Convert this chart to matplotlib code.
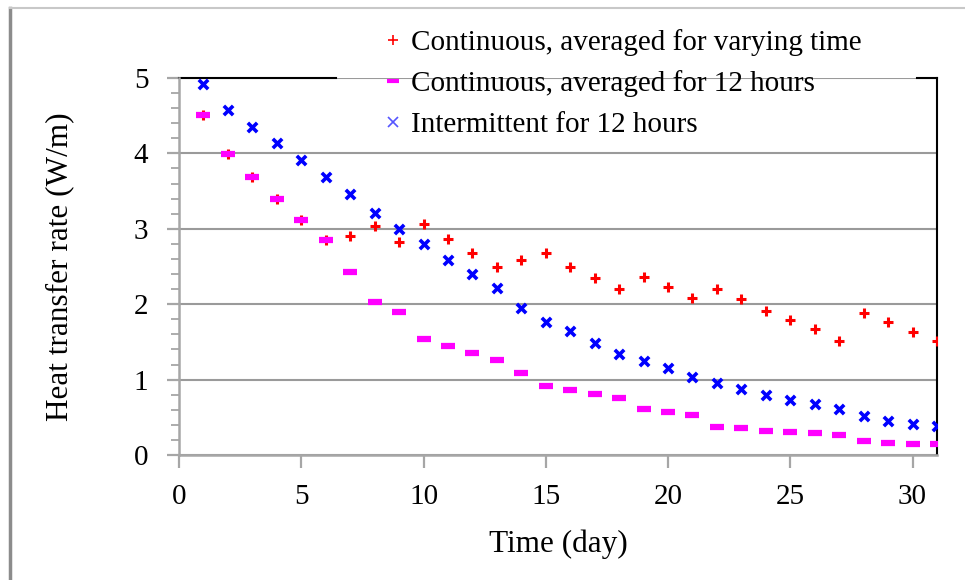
import numpy as np
import matplotlib
matplotlib.use('Agg')
import matplotlib.pyplot as plt
from matplotlib.ticker import MultipleLocator
from matplotlib.lines import Line2D

#%% Data
days = np.arange(1, 32)

varying_time = [4.51, 3.99, 3.69, 3.40, 3.12, 2.85, 2.90, 3.04, 2.83, 3.06,
                2.86, 2.68, 2.50, 2.59, 2.68, 2.50, 2.35, 2.20, 2.36, 2.23,
                2.08, 2.20, 2.07, 1.91, 1.79, 1.67, 1.51, 1.88, 1.76, 1.63, 1.51]

averaged_12h = [4.51, 3.99, 3.69, 3.40, 3.12, 2.85, 2.43, 2.03, 1.90, 1.54,
                1.45, 1.35, 1.26, 1.09, 0.91, 0.86, 0.81, 0.76, 0.61, 0.57,
                0.53, 0.37, 0.36, 0.32, 0.30, 0.29, 0.26, 0.18, 0.16, 0.14, 0.14]

intermittent_12h = [4.92, 4.57, 4.35, 4.14, 3.91, 3.69, 3.46, 3.21, 3.00, 2.80,
                    2.58, 2.40, 2.22, 1.95, 1.76, 1.65, 1.48, 1.34, 1.25, 1.15,
                    1.03, 0.95, 0.87, 0.80, 0.73, 0.68, 0.61, 0.52, 0.45, 0.41, 0.38]

labels = ['Continuous, averaged for varying time',
          'Continuous, averaged for 12 hours',
          'Intermittent for 12 hours']

#%% Plot
plt.rcParams['font.family'] = ['Liberation Serif', 'DejaVu Serif']

fig = plt.figure(figsize=(9.65, 5.8), dpi=100)
ax = fig.add_axes([179/965, 1 - 455/580, (937 - 179)/965, (455 - 78)/580])

ax.scatter(days, varying_time, marker='+', color='red', s=45, linewidths=2.2, zorder=3)
ax.scatter(days, averaged_12h, marker='_', color='magenta', s=110, linewidths=4.5, zorder=3)
ax.scatter(days, intermittent_12h, marker='x', color='blue', s=45, linewidths=2.6, zorder=4)

ax.set_xlim(0, 31)
ax.set_ylim(0, 5)
ax.xaxis.set_major_locator(MultipleLocator(5))
ax.yaxis.set_major_locator(MultipleLocator(1))
ax.yaxis.set_minor_locator(MultipleLocator(0.2))
ax.grid(axis='y', which='major', color='#9a9a9a', linewidth=1.5)
ax.set_axisbelow(True)

for side in ['left', 'bottom']:
    ax.spines[side].set_color('#a6a6a6')
    ax.spines[side].set_linewidth(1.8)
ax.spines['right'].set_color('black')
ax.spines['right'].set_linewidth(1.5)
ax.spines['top'].set_visible(False)
# top border is hidden behind the legend in the middle
ax.axhline(5, xmin=0, xmax=(336 - 179)/758, color='black', linewidth=1.5, clip_on=False)
ax.axhline(5, xmin=(917 - 179)/758, xmax=1, color='black', linewidth=1.5, clip_on=False)

ax.tick_params(axis='both', which='major', direction='out', length=9, width=1.6,
               color='#a6a6a6', labelsize=21)
ax.tick_params(axis='x', which='major', pad=12)
ax.tick_params(axis='y', which='major', pad=13)
ax.tick_params(axis='y', which='minor', direction='out', length=6, width=1.3, color='#a6a6a6')

ax.set_xlabel('Time (day)', fontsize=22.5, labelpad=14)
ax.set_ylabel('Heat transfer rate (W/m)', fontsize=22.5, labelpad=43)

handles = [Line2D([], [], linestyle='none', marker='+', color='red', markersize=7, mew=1.2),
           Line2D([], [], linestyle='none', marker='_', color='magenta', markersize=9, mew=3),
           Line2D([], [], linestyle='none', marker='x', color='#5555ff', markersize=7, mew=1.2)]
leg = fig.legend(handles, labels, loc='upper left', bbox_to_anchor=(364/965, 1 - 9/580),
                 fontsize=21, frameon=False, handlelength=0.6, handletextpad=0.3,
                 labelspacing=0.48, borderpad=0.2)

# outer chart border (only left and top edges show in the image)
fig.add_artist(Line2D([10/965, 10/965], [0, 1 - 8/580], transform=fig.transFigure,
                      color='#8c8c8c', linewidth=2.5))
fig.add_artist(Line2D([10/965, 1], [1 - 8/580, 1 - 8/580], transform=fig.transFigure,
                      color='#c8c8c8', linewidth=1.5))

fig.savefig('out.png', dpi=100)
